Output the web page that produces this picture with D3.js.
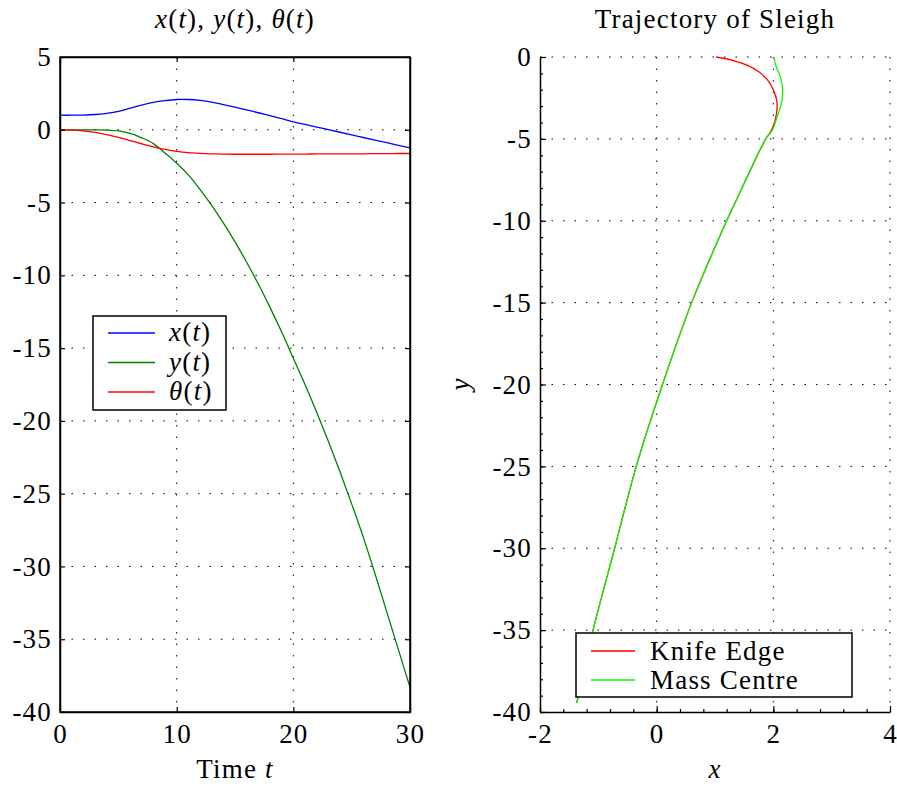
<!DOCTYPE html>
<html>
<head>
  <title>Sleigh</title>
  <script src="https://d3js.org/d3.v7.min.js"></script>
  <style>
    body { margin: 0; background: #fff; }
    text { font-family: "Liberation Serif", "DejaVu Serif", serif; fill: #000; font-size: 27px; letter-spacing: 1.2px; }
  </style>
</head>
<body>
  <div id="chart"></div>
  <script>
    // left panel: time series
    const timeVals = [0,1,2,3,4,5,6,7,8,9,10,11,12,13,14,15,16,17,18,19,20,21,22,23,24,25,26,27,28,29,30];
    const xVals = [1.0,1.0,1.01,1.05,1.13,1.26,1.48,1.7,1.88,2.0,2.08,2.08,2.02,1.9,1.73,1.55,1.36,1.17,0.97,0.77,0.55,0.37,0.19,0.01,-0.17,-0.35,-0.53,-0.71,-0.89,-1.07,-1.25];
    const yVals = [0,0,0,-0.01,-0.02,-0.08,-0.25,-0.55,-0.95,-1.6,-2.3,-3.1,-4.1,-5.2,-6.4,-7.7,-9.1,-10.6,-12.2,-13.9,-15.7,-17.5,-19.4,-21.4,-23.5,-25.7,-28.0,-30.5,-33.1,-35.7,-38.3];
    const thetaVals = [0,-0.02,-0.08,-0.18,-0.33,-0.52,-0.74,-0.96,-1.17,-1.35,-1.48,-1.57,-1.62,-1.65,-1.67,-1.68,-1.68,-1.68,-1.68,-1.67,-1.67,-1.67,-1.66,-1.66,-1.65,-1.65,-1.65,-1.64,-1.64,-1.63,-1.63];
    const seriesVars = ["x", "y", "θ"];
    const seriesColors = ["#0000ff", "#008000", "#ff0000"];
    const leftXTicks = [0, 10, 20, 30];
    const leftYTicks = [5, 0, -5, -10, -15, -20, -25, -30, -35, -40];

    // right panel: trajectory (x, y) pairs
    const knifeX = [1.02,1.3,1.55,1.75,1.9,2.0,2.06,2.06,2.02,1.95,1.87,1.37,1.2,0.6,0.1,-0.35,-0.72,-1.09,-1.37];
    const knifeY = [0,-0.2,-0.5,-0.9,-1.4,-2.0,-2.7,-3.3,-4.0,-4.6,-5.0,-8.7,-10,-15,-20,-25,-30,-35,-39.45];
    const massX = [2.01,2.05,2.12,2.16,2.14,2.07,1.98,1.87,1.37,1.2,0.6,0.1,-0.35,-0.72,-1.09,-1.37];
    const massY = [0,-0.6,-1.2,-2.0,-2.8,-3.6,-4.5,-5.0,-8.7,-10,-15,-20,-25,-30,-35,-39.45];
    const trajNames = ["Knife Edge", "Mass Centre"];
    const trajColors = ["#ff0000", "#00ff00"];
    const rightXTicks = [-2, 0, 2, 4];
    const rightYTicks = [0, -5, -10, -15, -20, -25, -30, -35, -40];

    const width = 897, height = 787;
    const svg = d3.select("#chart").append("svg")
      .attr("width", width)
      .attr("height", height);

    const topY = 57, bottomY = 712;
    const it = s => `<tspan font-style="italic">${s}</tspan>`;
    const fn = v => `${it(v)}(${it("t")})`;

    // ---------- left panel ----------
    const lx = d3.scaleLinear().domain([0, 30]).range([60, 410]);
    const ly = d3.scaleLinear().domain([-40, 5]).range([bottomY, topY]);
    const leftG = svg.append("g");

    // dotted grid
    leftG.selectAll(".gx").data(leftXTicks.slice(1, -1)).enter().append("line")
      .attr("x1", d => lx(d)).attr("x2", d => lx(d))
      .attr("y1", topY).attr("y2", bottomY)
      .attr("stroke", "#000").attr("stroke-width", 1).attr("stroke-dasharray", "1.5,10");
    leftG.selectAll(".gy").data(leftYTicks.slice(1, -1)).enter().append("line")
      .attr("y1", d => ly(d)).attr("y2", d => ly(d))
      .attr("x1", 60).attr("x2", 410)
      .attr("stroke", "#000").attr("stroke-width", 1).attr("stroke-dasharray", "1.5,10");

    const line = d3.line().curve(d3.curveCatmullRom)
      .x(d => lx(d[0])).y(d => ly(d[1]));
    [xVals, yVals, thetaVals].forEach((vals, i) => {
      leftG.append("path")
        .datum(timeVals.map((t, j) => [t, vals[j]]))
        .attr("fill", "none")
        .attr("stroke", seriesColors[i])
        .attr("stroke-width", 1.3)
        .attr("d", line);
    });

    // box and inward ticks
    leftG.append("rect").attr("x", 60).attr("y", topY).attr("width", 350).attr("height", bottomY - topY)
      .attr("fill", "none").attr("stroke", "#000").attr("stroke-width", 1.5);
    leftG.append("g").attr("transform", `translate(0,${bottomY})`)
      .call(d3.axisBottom(lx).tickValues(leftXTicks).tickSizeInner(-5).tickSizeOuter(0).tickPadding(12).tickFormat(d => String(d)));
    leftG.append("g").attr("transform", `translate(0,${topY})`)
      .call(d3.axisTop(lx).tickValues(leftXTicks).tickSizeInner(-5).tickSizeOuter(0).tickFormat(""));
    leftG.append("g").attr("transform", "translate(60,0)")
      .call(d3.axisLeft(ly).tickValues(leftYTicks).tickSizeInner(-5).tickSizeOuter(0).tickPadding(8).tickFormat(d => String(d)));
    leftG.append("g").attr("transform", "translate(410,0)")
      .call(d3.axisRight(ly).tickValues(leftYTicks).tickSizeInner(-5).tickSizeOuter(0).tickFormat(""));

    // legend
    const lg = leftG.append("g").attr("transform", "translate(93,316)");
    lg.append("rect").attr("width", 133).attr("height", 94)
      .attr("fill", "#fff").attr("stroke", "#000").attr("stroke-width", 1.5);
    seriesVars.forEach((v, i) => {
      const yy = 17 + i * 29.5;
      lg.append("line").attr("x1", 15).attr("x2", 62).attr("y1", yy).attr("y2", yy)
        .attr("stroke", seriesColors[i]).attr("stroke-width", 1.3);
      lg.append("text").attr("x", 76).attr("y", yy + 8).html(fn(v));
    });

    leftG.append("text").attr("x", 235).attr("y", 28).attr("text-anchor", "middle")
      .html(`${fn("x")}, ${fn("y")}, ${fn("θ")}`);
    leftG.append("text").attr("x", 235).attr("y", 778).attr("text-anchor", "middle")
      .html(`Time ${it("t")}`);

    // ---------- right panel ----------
    const rx = d3.scaleLinear().domain([-2, 4]).range([540, 890]);
    const ry = d3.scaleLinear().domain([-40, 0]).range([bottomY, topY]);
    const rightG = svg.append("g");

    rightG.selectAll(".gx").data(rightXTicks.slice(1)).enter().append("line")
      .attr("x1", d => rx(d)).attr("x2", d => rx(d))
      .attr("y1", topY).attr("y2", bottomY)
      .attr("stroke", "#000").attr("stroke-width", 1).attr("stroke-dasharray", "1.5,10");
    rightG.selectAll(".gy").data(rightYTicks.slice(0, -1)).enter().append("line")
      .attr("y1", d => ry(d)).attr("y2", d => ry(d))
      .attr("x1", 540).attr("x2", 890)
      .attr("stroke", "#000").attr("stroke-width", 1).attr("stroke-dasharray", "1.5,10");

    const traj = d3.line().curve(d3.curveCatmullRom)
      .x(d => rx(d[0])).y(d => ry(d[1]));
    [[knifeX, knifeY], [massX, massY]].forEach(([xs, ys], i) => {
      rightG.append("path")
        .datum(xs.map((v, j) => [v, ys[j]]))
        .attr("fill", "none")
        .attr("stroke", trajColors[i])
        .attr("stroke-width", 1.3)
        .attr("d", traj);
    });

    // minor ticks
    rightG.append("g").attr("transform", `translate(0,${bottomY})`)
      .call(d3.axisBottom(rx).tickValues(d3.range(-2, 4.01, 0.4)).tickSizeInner(-3).tickSizeOuter(0).tickFormat(""))
      .select(".domain").remove();
    rightG.append("g").attr("transform", "translate(540,0)")
      .call(d3.axisLeft(ry).tickValues(d3.range(-40, 0.01, 1)).tickSizeInner(-3).tickSizeOuter(0).tickFormat(""))
      .select(".domain").remove();
    // major ticks
    rightG.append("g").attr("transform", `translate(0,${bottomY})`)
      .call(d3.axisBottom(rx).tickValues(rightXTicks).tickSizeInner(-6).tickSizeOuter(0).tickPadding(12).tickFormat(d => String(d)));
    rightG.append("g").attr("transform", "translate(540,0)")
      .call(d3.axisLeft(ry).tickValues(rightYTicks).tickSizeInner(-6).tickSizeOuter(0).tickPadding(8).tickFormat(d => String(d)));

    const rg = rightG.append("g").attr("transform", "translate(576,633)");
    rg.append("rect").attr("width", 276).attr("height", 64)
      .attr("fill", "#fff").attr("stroke", "#000").attr("stroke-width", 1.5);
    trajNames.forEach((name, i) => {
      const yy = 18 + i * 29;
      rg.append("line").attr("x1", 15).attr("x2", 59).attr("y1", yy).attr("y2", yy)
        .attr("stroke", trajColors[i]).attr("stroke-width", 1.3);
      rg.append("text").attr("x", 74).attr("y", yy + 9).text(name);
    });

    rightG.append("text").attr("x", 715).attr("y", 28).attr("text-anchor", "middle")
      .text("Trajectory of Sleigh");
    rightG.append("text").attr("x", 715).attr("y", 778).attr("text-anchor", "middle")
      .attr("font-style", "italic").text("x");
    rightG.append("text").attr("transform", "translate(469,384) rotate(-90)").attr("text-anchor", "middle")
      .attr("font-style", "italic").text("y");

    // axis styling
    svg.selectAll(".domain").attr("stroke-width", 1.5);
    svg.selectAll(".tick line").attr("stroke-width", 1.2);
  </script>
</body>
</html>
